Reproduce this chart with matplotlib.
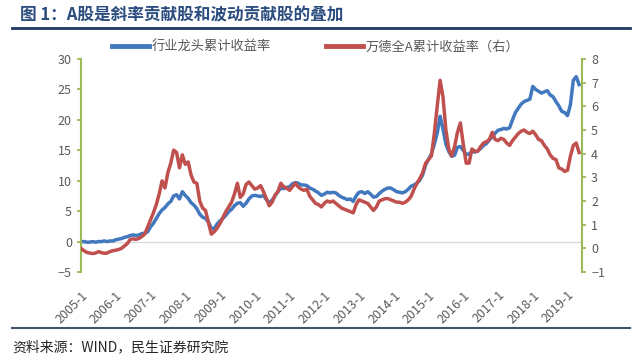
import numpy as np
import matplotlib
matplotlib.use('Agg')
import matplotlib.pyplot as plt
from matplotlib.lines import Line2D

plt.rcParams['font.family'] = ['Noto Sans CJK SC', 'DejaVu Sans']

# 月度数据 2005-1 ~ 2019-5
leader_ret = [
    0.0, 0.0, -0.1, -0.1, 0.0, -0.1, 0.0, 0.0, 0.1, 0.0, 0.1, 0.1,          # 2005
    0.3, 0.4, 0.5, 0.7, 0.8, 1.0, 1.1, 1.0, 1.1, 1.3, 1.4, 1.6,             # 2006
    2.4, 3.0, 3.8, 4.6, 5.2, 5.6, 6.2, 6.6, 7.5, 7.7, 7.0, 8.2,             # 2007
    7.6, 7.1, 6.4, 6.0, 5.4, 4.5, 4.0, 3.8, 3.2, 2.2, 2.1, 2.9,             # 2008
    3.4, 3.8, 4.3, 4.9, 5.3, 5.9, 6.3, 6.4, 5.8, 6.3, 7.0, 7.5,             # 2009
    7.6, 7.5, 7.4, 7.6, 6.9, 6.4, 6.8, 7.5, 8.2, 8.8, 8.7, 8.9,             # 2010
    9.0, 9.5, 9.7, 9.6, 9.3, 9.3, 9.2, 8.8, 8.6, 8.3, 8.0, 7.6,             # 2011
    7.8, 8.1, 8.0, 8.1, 8.0, 7.6, 7.3, 7.1, 6.9, 7.0, 6.6, 7.5,             # 2012
    8.1, 8.2, 7.9, 8.2, 7.8, 7.3, 7.4, 7.9, 8.3, 8.6, 8.8, 8.8,             # 2013
    8.5, 8.2, 8.1, 8.0, 8.2, 8.6, 9.1, 9.3, 9.6, 10.1, 11.0, 12.6,          # 2014
    13.5, 14.4, 16.0, 17.8, 20.6, 18.5, 16.0, 14.8, 14.0, 14.2, 15.5, 15.6,  # 2015
    15.0, 14.3, 14.4, 14.8, 14.7, 14.9, 15.3, 15.8, 16.1, 16.7, 17.2, 17.8,  # 2016
    18.3, 18.4, 18.6, 18.5, 18.7, 20.0, 21.2, 21.9, 22.6, 23.0, 23.2, 23.4,  # 2017
    25.5, 25.0, 24.7, 24.4, 24.6, 24.8, 24.1, 23.8, 23.0, 22.3, 21.4, 21.2,  # 2018
    20.7, 22.5, 26.5, 27.1, 25.8,                                           # 2019
]
wind_a_ret = [
    0.0, -0.1, -0.17, -0.2, -0.22, -0.2, -0.14, -0.18, -0.21, -0.2, -0.14, -0.1,
    -0.08, -0.05, 0.0, 0.1, 0.2, 0.38, 0.4, 0.38, 0.42, 0.5, 0.6, 0.9,
    1.2, 1.5, 1.85, 2.3, 2.85, 2.55, 3.2, 3.6, 4.15, 4.05, 3.4, 3.95,
    3.55, 3.65, 3.1, 2.8, 2.75, 2.0, 1.7, 1.6, 1.1, 0.6, 0.7, 0.85,
    1.05, 1.3, 1.55, 1.75, 1.95, 2.3, 2.75, 2.15, 2.3, 2.7, 2.8, 2.65,
    2.5, 2.55, 2.65, 2.4, 2.1, 1.8, 1.95, 2.25, 2.4, 2.75, 2.6, 2.55,
    2.45, 2.6, 2.75, 2.6, 2.5, 2.45, 2.5, 2.2, 2.05, 1.9, 1.85, 1.75,
    1.9, 2.0, 1.95, 2.0, 1.9, 1.8, 1.7, 1.65, 1.6, 1.55, 1.5, 1.85,
    2.05, 2.0, 1.95, 1.9, 1.75, 1.6, 1.75, 2.0, 2.05, 2.1, 2.1, 2.05,
    2.0, 1.95, 1.95, 1.9, 1.95, 2.05, 2.2, 2.5, 2.75, 2.95, 3.2, 3.6,
    3.75, 3.9, 4.85, 6.0, 7.1, 6.4, 5.0, 4.2, 3.9, 4.3, 4.9, 5.3,
    4.4, 3.6, 3.6, 4.2, 4.1, 4.1, 4.3, 4.45, 4.5, 4.6, 4.9, 4.6,
    4.55, 4.65, 4.6, 4.45, 4.35, 4.55, 4.7, 4.85, 4.95, 5.0, 4.9, 4.85,
    4.95, 4.8, 4.6, 4.55, 4.35, 4.2, 3.95, 3.8, 3.75, 3.4, 3.35, 3.25,
    3.3, 3.9, 4.35, 4.45, 4.05,
]
years = list(range(2005, 2020))
tick_labels = [f'{y}-1' for y in years]

blue = '#4178BE'
red = '#C0504D'
green = '#9BBB59'
gray = '#595959'

fig = plt.figure(figsize=(6.4, 3.61), dpi=100)
ax = fig.add_axes([81 / 640, 1 - 272 / 361, 501 / 640, 213 / 361])
ax2 = ax.twinx()

x = np.arange(len(leader_ret))
ax.axhline(0, color='#D9D9D9', lw=1, zorder=0)
ax.plot(x, leader_ret, color=blue, lw=2.5, solid_joinstyle='round', zorder=2)
ax2.plot(x, wind_a_ret, color=red, lw=2.5, solid_joinstyle='round', zorder=3)

ax.set_xlim(0, 173)
ax.set_ylim(-5, 30)
ax.set_yticks(range(-5, 31, 5))
ax2.set_ylim(-1, 8)
ax2.set_yticks(range(-1, 9))
ax.set_xticks([12 * i for i in range(len(years))])
ax.set_xticklabels(tick_labels, rotation=45, ha='right', rotation_mode='anchor')

for a in (ax, ax2):
    for s in ('top', 'bottom'):
        a.spines[s].set_visible(False)
    a.tick_params(axis='y', colors=green, labelcolor=gray, labelsize=9, length=3, width=1.3)
    a.tick_params(axis='x', length=0, labelcolor=gray, labelsize=9, pad=12)
ax.spines['left'].set_color(green)
ax.spines['left'].set_linewidth(1.5)
ax.spines['right'].set_visible(False)
ax2.spines['right'].set_color(green)
ax2.spines['right'].set_linewidth(1.5)
ax2.spines['left'].set_visible(False)

handles = [Line2D([], [], color=blue, lw=3.5), Line2D([], [], color=red, lw=3.5)]
fig.legend(handles, ['行业龙头累计收益率', '万德全A累计收益率（右）'],
           loc='center', bbox_to_anchor=(316 / 640, 1 - 47 / 361), ncol=2,
           frameon=False, fontsize=9.5, labelcolor=gray, handlelength=2.8,
           handletextpad=0.2, columnspacing=4.2)

fig.text(20 / 640, 1 - 15 / 361, '图 1：A股是斜率贡献股和波动贡献股的叠加',
         color='#2B4C7E', fontsize=12, fontweight='bold', va='center', ha='left')
fig.add_artist(Line2D([12 / 640, 630 / 640], [1 - 28 / 361] * 2, color='#1F3864', lw=2))
fig.add_artist(Line2D([12 / 640, 630 / 640], [1 - 328 / 361] * 2, color='#44546A', lw=1.5))
fig.text(12 / 640, 1 - 347 / 361, '资料来源：WIND，民生证券研究院',
         color='#262626', fontsize=10, va='center', ha='left')

fig.savefig('out.png', dpi=100, facecolor='white')
